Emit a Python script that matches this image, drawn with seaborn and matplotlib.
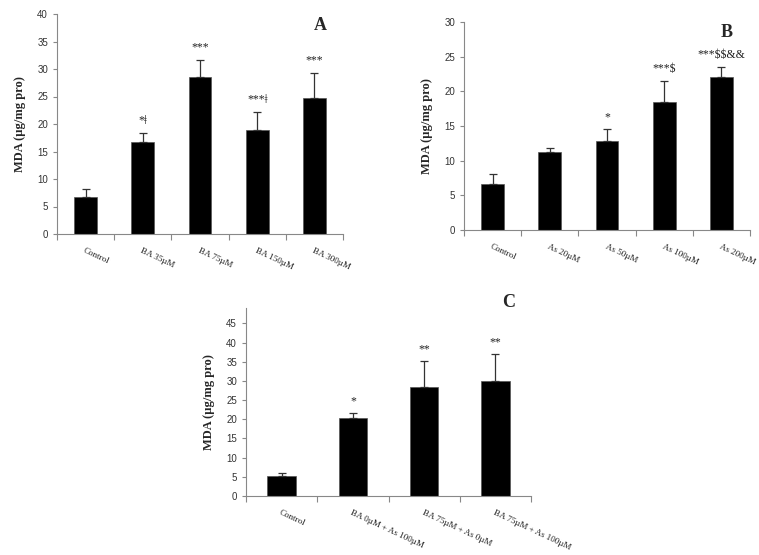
import numpy as np
import pandas as pd
import matplotlib
matplotlib.use('Agg')
import matplotlib.pyplot as plt
import seaborn as sns

# panel A
a_groups = ['Control', 'BA 35µM', 'BA 75µM', 'BA 150µM', 'BA 300µM']
a_mean = [6.7, 16.8, 28.5, 19.0, 24.8]
a_err = [1.4, 1.5, 3.1, 3.1, 4.5]
a_sig = ['', '*ǂ', '***', '***ǂ', '***']

# panel B
b_groups = ['Control', 'As 20µM', 'As 50µM', 'As 100µM', 'As 200µM']
b_mean = [6.7, 11.2, 12.9, 18.4, 22.1]
b_err = [1.4, 0.6, 1.6, 3.1, 1.4]
b_sig = ['', '', '*', '***$', '***$$&&']

# panel C
c_groups = ['Control', 'BA 0µM + As 100µM', 'BA 75µM + As 0µM', 'BA 75µM + As 100µM']
c_mean = [5.2, 20.2, 28.3, 30.1]
c_err = [0.7, 1.5, 7.0, 7.0]
c_sig = ['', '*', '**', '**']

sns.set_style('white')
serif = ['Liberation Serif', 'DejaVu Serif']
sans = ['Liberation Sans', 'DejaVu Sans']

fig = plt.figure(figsize=(7.59, 5.55), dpi=100)
W, H = 759, 555

def box(x0, y0, x1, y1):
    return [x0 / W, 1 - y1 / H, (x1 - x0) / W, (y1 - y0) / H]

def panel(ax, groups, mean, err, sig, ymax, yticks, letter, rot=-25):
    df = pd.DataFrame({'group': groups, 'mda': mean})
    sns.barplot(data=df, x='group', y='mda', color='black', width=0.4,
                saturation=1, ax=ax, edgecolor='#555555', linewidth=0.5)
    xs = np.arange(len(groups))
    ax.errorbar(xs, mean, yerr=[np.zeros(len(err)), err], fmt='none',
                ecolor='#333333', elinewidth=0.9, capsize=3, capthick=0.9)
    for x, m, e, s in zip(xs, mean, err, sig):
        if s:
            ax.text(x, m + e + ymax * 0.03, s, ha='center', va='bottom',
                    fontsize=8.5, family=serif, color='#222222', parse_math=False)
    ax.set_xlim(-0.5, len(groups) - 0.5)
    ax.set_ylim(0, ymax)
    ax.set_yticks(yticks)
    ax.set_yticklabels([str(t) for t in yticks], family=sans, fontsize=7, color='#333333')
    ax.set_xticks(xs)
    ax.set_xticklabels(groups, rotation=rot, ha='left', rotation_mode='anchor',
                       family=serif, fontsize=6.5, color='#222222')
    ax.set_xticks(np.arange(len(groups) + 1) - 0.5, minor=True)
    ax.tick_params(axis='x', which='major', length=0, pad=9, bottom=True)
    ax.tick_params(axis='x', which='minor', length=4, width=0.8, color='#888888',
                   direction='out', bottom=True)
    ax.tick_params(axis='y', length=3, width=0.8, color='#888888', direction='out', left=True)
    ax.set_xlabel('')
    ax.set_ylabel('MDA (µg/mg pro)', family=serif, fontweight='bold', fontsize=9, labelpad=8)
    for sp in ['top', 'right']:
        ax.spines[sp].set_visible(False)
    for sp in ['left', 'bottom']:
        ax.spines[sp].set_color('#888888')
        ax.spines[sp].set_linewidth(0.8)
    return ax.text(0.92, 0.95, letter, transform=ax.transAxes, ha='center', va='center',
                   family=serif, fontweight='bold', fontsize=13)

ax_a = fig.add_axes(box(57, 14, 343, 234))
panel(ax_a, a_groups, a_mean, a_err, a_sig, 40, list(range(0, 45, 5)), 'A')

ax_b = fig.add_axes(box(464, 22, 750, 230))
panel(ax_b, b_groups, b_mean, b_err, b_sig, 30, list(range(0, 35, 5)), 'B')

ax_c = fig.add_axes(box(246, 308, 531, 496))
lab_c = panel(ax_c, c_groups, c_mean, c_err, c_sig, 49, list(range(0, 50, 5)), 'C')
lab_c.set_position((0.92, 1.03))

fig.savefig('out.png', dpi=100)
